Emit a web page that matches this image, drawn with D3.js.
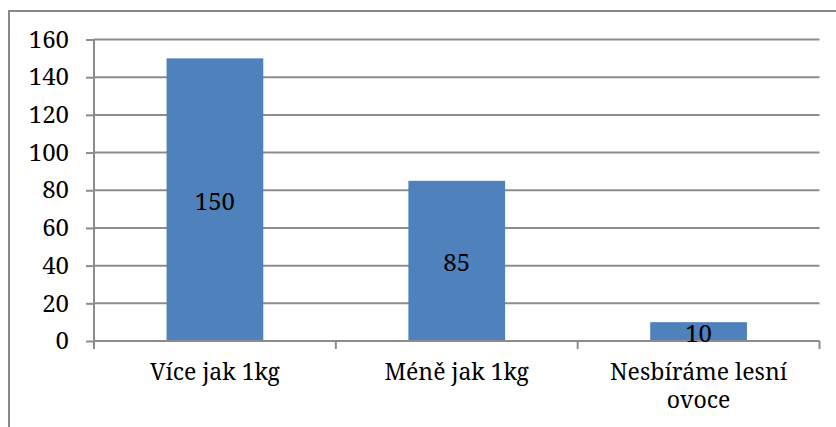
<!DOCTYPE html>
<html><head><meta charset="utf-8">
<script src="https://cdn.jsdelivr.net/npm/d3@7"></script>
<style>body{margin:0;background:#fff}svg{display:block}</style>
</head><body>
<svg id="c" width="836" height="427"></svg>
<script>
const categories = ["Více jak 1kg", "Méně jak 1kg", "Nesbíráme lesní ovoce"];
const categoryLines = [["Více jak 1kg"], ["Méně jak 1kg"], ["Nesbíráme lesní", "ovoce"]];
const values = [150, 85, 10];
const yTicks = [0, 20, 40, 60, 80, 100, 120, 140, 160];

(function() {
const svg = d3.select("#c");
const pLeft = 94, pRight = 819.5, pTop = 39.5, pBottom = 341;
const fs = "23px";
const ff = '"Noto Serif", "Liberation Serif", serif';

svg.append("rect").attr("x", 9).attr("y", 11).attr("width", 900).attr("height", 500)
  .attr("fill", "none").attr("stroke", "#888").attr("stroke-width", 2);

const x = d3.scaleBand().domain(categories).range([pLeft, pRight]).paddingInner(0.6).paddingOuter(0.3);
const y = d3.scaleLinear().domain([0, 160]).range([pBottom, pTop]);

// gridlines
svg.append("g").selectAll("line").data(yTicks.filter(d => d > 0)).join("line")
  .attr("x1", pLeft).attr("x2", pRight).attr("y1", d => y(d)).attr("y2", d => y(d))
  .attr("stroke", "#8c8c8c").attr("stroke-width", 2);

// bars
svg.append("g").selectAll("rect").data(values).join("rect")
  .attr("x", (d, i) => x(categories[i])).attr("width", x.bandwidth())
  .attr("y", d => y(d)).attr("height", d => y(0) - y(d)).attr("fill", "#4f81bd");

// y axis
const yAxis = svg.append("g").attr("transform", `translate(${pLeft},0)`)
  .call(d3.axisLeft(y).tickValues(yTicks).tickSize(8).tickPadding(17));
yAxis.select(".domain").attr("stroke", "#8c8c8c").attr("stroke-width", 2).attr("d", `M0,${pTop}V${pBottom + 6}`);
yAxis.selectAll(".tick line").attr("stroke", "#8c8c8c").attr("stroke-width", 2);
yAxis.selectAll(".tick text").style("font-size", "24px").style("font-family", ff).attr("fill", "#000");

// x axis
const step = (pRight - pLeft) / categories.length;
const bounds = d3.range(categories.length + 1).map(i => pLeft + i * step);
svg.append("line").attr("x1", pLeft).attr("x2", pRight).attr("y1", pBottom).attr("y2", pBottom)
  .attr("stroke", "#8c8c8c").attr("stroke-width", 2);
svg.append("g").selectAll("line").data(bounds).join("line")
  .attr("x1", d => d).attr("x2", d => d).attr("y1", pBottom).attr("y2", pBottom + 8)
  .attr("stroke", "#8c8c8c").attr("stroke-width", 2);

// category labels (one text per line)
const labelData = [];
categories.forEach((c, i) => categoryLines[i].forEach((ln, j) => labelData.push({c, ln, j})));
svg.append("g").selectAll("text").data(labelData).join("text")
  .attr("text-anchor", "middle").style("font-size", fs).style("font-family", ff).attr("fill", "#000")
  .attr("x", d => x(d.c) + x.bandwidth() / 2)
  .attr("y", d => 380 + d.j * 28)
  .text(d => d.ln);

// value labels
svg.append("g").selectAll("text").data(values).join("text")
  .attr("text-anchor", "middle").style("font-size", "24px").style("font-family", ff).attr("fill", "#000")
  .attr("dominant-baseline", "central")
  .attr("x", (d, i) => x(categories[i]) + x.bandwidth() / 2)
  .attr("y", d => (y(d) + y(0)) / 2 + 1)
  .text(d => d);
})();
</script>
</body></html>
